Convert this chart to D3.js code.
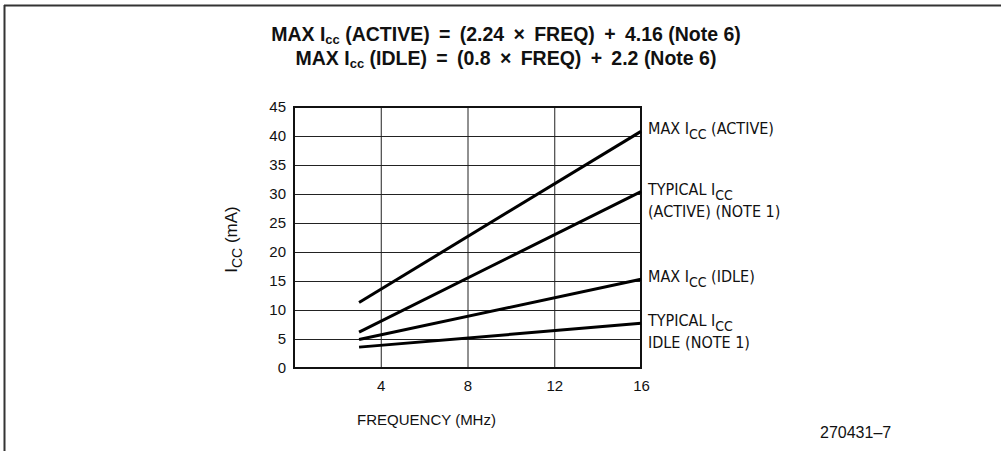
<!DOCTYPE html>
<html>
<head>
<meta charset="utf-8">
<script src="https://cdn.jsdelivr.net/npm/d3@7"></script>
<style>
  body { margin: 0; background: #fff; }
  svg text { fill: #111; }
  .tick text { font-family: "Liberation Sans", Arial, sans-serif; font-size: 15px; }
  .grid line { stroke: #222; stroke-width: 1; }
  .grid .domain { display: none; }
</style>
</head>
<body>
<div id="chart"></div>
<script>
// chart data
var xTicks = [4, 8, 12, 16];
var yTicks = [0, 5, 10, 15, 20, 25, 30, 35, 40, 45];
var freqStart = [3, 3, 3, 3];
var freqEnd = [16, 16, 16, 16];
var iccStart = [11.3, 6.2, 4.9, 3.6];
var iccEnd = [40.8, 30.4, 15.3, 7.7];
var seriesLabels = [
  [["MAX I", "CC", " (ACTIVE)"]],
  [["TYPICAL I", "CC", ""], ["(ACTIVE) (NOTE  1)", "", ""]],
  [["MAX I", "CC", " (IDLE)"]],
  [["TYPICAL I", "CC", ""], ["IDLE (NOTE 1)", "", ""]]
];
var titleLines = [
  ["MAX I", "cc", " (ACTIVE) \u2009=\u2009 (2.24 \u2009\u00d7\u2009 FREQ) \u2009+\u2009 4.16 (Note 6)"],
  ["MAX I", "cc", " (IDLE) \u2009=\u2009 (0.8 \u2009\u00d7\u2009 FREQ) \u2009+\u2009 2.2 (Note 6)"]
];
var figureId = "270431\u20137";

var svgWidth = 1001;
var svgHeight = 451;

var margin = { top: 107, left: 294 };
var width = 641 - 294;
var height = 368 - 107;

var svg = d3.select("#chart")
  .append("svg")
  .attr("width", svgWidth)
  .attr("height", svgHeight);

// page frame (top and left edges only)
svg.append("line")
  .attr("x1", 4).attr("x2", svgWidth).attr("y1", 5.5).attr("y2", 5.5)
  .attr("stroke", "#333").attr("stroke-width", 2);
svg.append("line")
  .attr("x1", 4.5).attr("x2", 4.5).attr("y1", 5).attr("y2", svgHeight)
  .attr("stroke", "#333").attr("stroke-width", 2);

// title
var title = svg.append("g")
  .attr("font-family", "Liberation Sans, Arial, sans-serif")
  .attr("font-weight", "bold")
  .attr("font-size", 19.5);

titleLines.forEach(function(parts, i) {
  var t = title.append("text")
    .attr("x", 506)
    .attr("y", 41 + i * 24)
    .attr("text-anchor", "middle");
  t.append("tspan").text(parts[0]);
  t.append("tspan").attr("dy", 3).attr("font-size", 13).text(parts[1]);
  t.append("tspan").attr("dy", -3).text(parts[2]);
});

var chartGroup = svg.append("g")
  .attr("transform", `translate(${margin.left}, ${margin.top})`);

var xScale = d3.scaleLinear().domain([0, 16]).range([0, width]);
var yScale = d3.scaleLinear().domain([0, 45]).range([height, 0]);

// grid lines via axes
chartGroup.append("g")
  .attr("class", "grid")
  .call(d3.axisLeft(yScale).tickValues(yTicks).tickSize(-width).tickFormat(""));
chartGroup.append("g")
  .attr("class", "grid")
  .attr("transform", `translate(0, ${height})`)
  .call(d3.axisBottom(xScale).tickValues(xTicks).tickSize(-height).tickFormat(""));

// tick labels
var leftAxis = chartGroup.append("g")
  .call(d3.axisLeft(yScale).tickValues(yTicks).tickSize(0).tickPadding(8));
leftAxis.select(".domain").remove();

var bottomAxis = chartGroup.append("g")
  .attr("transform", `translate(0, ${height})`)
  .call(d3.axisBottom(xScale).tickValues(xTicks).tickSize(0).tickPadding(12));
bottomAxis.select(".domain").remove();

// plot frame
chartGroup.append("rect")
  .attr("x", 0).attr("y", 0)
  .attr("width", width).attr("height", height)
  .attr("fill", "none")
  .attr("stroke", "#111")
  .attr("stroke-width", 2);

// series lines
var line = d3.line()
  .x(d => xScale(d[0]))
  .y(d => yScale(d[1]));

iccStart.forEach(function(v, i) {
  chartGroup.append("path")
    .datum([[freqStart[i], v], [freqEnd[i], iccEnd[i]]])
    .attr("d", line)
    .attr("fill", "none")
    .attr("stroke", "#000")
    .attr("stroke-width", 3);
});

// series labels
var labelGroup = chartGroup.append("g")
  .attr("font-family", "Liberation Sans Narrow, DejaVu Sans Condensed, sans-serif")
  .attr("font-size", 16);

seriesLabels.forEach(function(lines, i) {
  lines.forEach(function(parts, j) {
    var t = labelGroup.append("text")
      .attr("x", xScale(16) + 7)
      .attr("y", yScale(iccEnd[i]) + 3 + j * 22);
    t.append("tspan").text(parts[0]);
    if (parts[1]) {
      t.append("tspan").attr("dy", 5).attr("font-size", 14).text(parts[1]);
      t.append("tspan").attr("dy", -5).text(parts[2]);
    }
  });
});

// y axis title
var yTitle = chartGroup.append("text")
  .attr("transform", "rotate(-90)")
  .attr("x", -(yScale(22.5) + 2))
  .attr("y", -57)
  .attr("text-anchor", "middle")
  .attr("font-family", "Liberation Sans, Arial, sans-serif")
  .attr("font-size", 17);
yTitle.append("tspan").text("I");
yTitle.append("tspan").attr("dy", 5).attr("font-size", 14).text("CC");
yTitle.append("tspan").attr("dy", -5).text(" (mA)");

// x axis title
chartGroup.append("text")
  .attr("x", xScale(3) - 2)
  .attr("y", height + 57)
  .attr("font-family", "Liberation Sans, Arial, sans-serif")
  .attr("font-size", 15)
  .text("FREQUENCY (MHz)");

// figure id
svg.append("text")
  .attr("x", 820)
  .attr("y", 438)
  .attr("font-family", "Liberation Sans, Arial, sans-serif")
  .attr("font-size", 16)
  .text(figureId);
</script>
</body>
</html>
